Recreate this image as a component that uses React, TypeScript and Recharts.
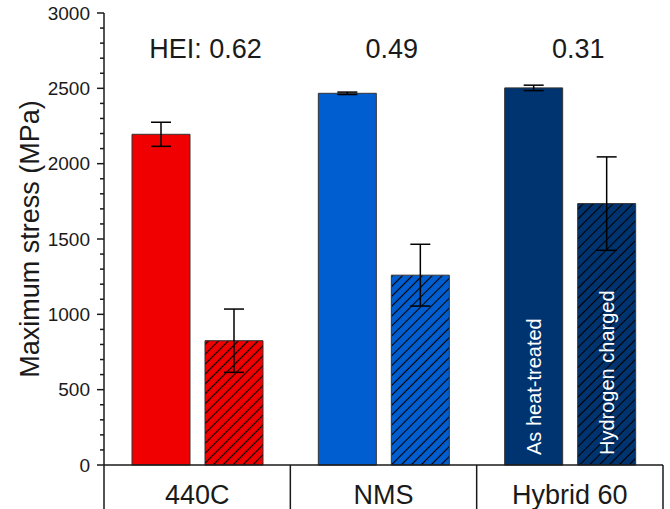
import React from "react";
import { BarChart, Bar, XAxis, YAxis, ErrorBar, Cell, LabelList, Label } from "recharts";

const categories = ["440C", "NMS", "Hybrid 60"];
const asHeatTreated = [2195, 2467, 2503];
const asHeatTreatedErr = [80, 8, 18];
const hydrogenCharged = [825, 1260, 1735];
const hydrogenChargedErr = [210, 205, 310];
const heiLabels = ["HEI: 0.62", "0.49", "0.31"];
const majorTicks = [0, 500, 1000, 1500, 2000, 2500, 3000];
const allTicks = [
  0, 100, 200, 300, 400, 500, 600, 700, 800, 900, 1000, 1100, 1200, 1300, 1400, 1500,
  1600, 1700, 1800, 1900, 2000, 2100, 2200, 2300, 2400, 2500, 2600, 2700, 2800, 2900, 3000,
];
const HEI_LEVEL = 2700;

const COLORS = ["#f00000", "#005ed0", "#003470"];
const INK = "#1a1a1a";
const FONT = "'Liberation Sans', Arial, Helvetica, sans-serif";

const W = 670;
const H = 509;
const MARGIN = { top: 13, right: 7, bottom: 0, left: 0 };
const Y_AXIS_W = 104;
const X_AXIS_H = 44;
const BAR_GAP = 15;
const PLOT_W = W - MARGIN.right - Y_AXIS_W;
const BAND = PLOT_W / categories.length;
const HATCH = 7;

const data = categories.map((name, i) => ({
  name,
  heat: asHeatTreated[i],
  heatErr: asHeatTreatedErr[i],
  h2: hydrogenCharged[i],
  h2Err: hydrogenChargedErr[i],
  hei: heiLabels[i],
}));

const LeftTick = (props: any) => {
  const { x, y, payload } = props;
  const major = majorTicks.includes(payload.value);
  return (
    <g>
      <line x1={x - (major ? 7 : 4)} x2={x} y1={y} y2={y} stroke={INK} strokeWidth={1.5} />
      {major && (
        <text x={x - 14} y={y} dy="0.35em" textAnchor="end" fontSize={19} fill={INK} fontFamily={FONT}>
          {payload.value}
        </text>
      )}
    </g>
  );
};

const RightTick = (props: any) => {
  const { x, y, payload } = props;
  const major = majorTicks.includes(payload.value);
  return <line x1={x - (major ? 7 : 4)} x2={x} y1={y} y2={y} stroke={INK} strokeWidth={1.5} />;
};

const XTick = (props: any) => {
  const { x, y, payload } = props;
  const half = BAND / 2;
  const first = payload.value === categories[0];
  return (
    <g>
      {first && <line x1={x - half} x2={x - half} y1={y} y2={y + X_AXIS_H} stroke={INK} strokeWidth={1.5} />}
      <line x1={x + half} x2={x + half} y1={y} y2={y + X_AXIS_H} stroke={INK} strokeWidth={1.5} />
      <text x={x} y={y + 39} textAnchor="middle" fontSize={27} fill={INK} fontFamily={FONT}>
        {payload.value}
      </text>
    </g>
  );
};

const HeiLabel = (props: any) => {
  const vb = props.viewBox ?? props;
  const { x, y, width, height } = vb;
  const idx = props.index;
  const base = y + height;
  const perUnit = height / asHeatTreated[idx];
  const ty = base - HEI_LEVEL * perUnit;
  const cx = x + width + BAR_GAP / 2 + 8;
  return (
    <text x={cx} y={ty} textAnchor="middle" fontSize={27} fill={INK} fontFamily={FONT}>
      {heiLabels[idx]}
    </text>
  );
};

const makeInsideLabel = (text: string) => (props: any) => {
  if (props.index !== 2) return null;
  const vb = props.viewBox ?? props;
  const cx = vb.x + vb.width / 2;
  const by = vb.y + vb.height - 10;
  return (
    <text
      x={cx}
      y={by}
      transform={`rotate(-90 ${cx} ${by})`}
      textAnchor="start"
      dominantBaseline="central"
      fontSize={20}
      fill="#ffffff"
      fontFamily={FONT}
    >
      {text}
    </text>
  );
};

export default function App() {
  return (
    <div style={{ position: "absolute", left: 0, top: 0, width: W, height: H, background: "#fff" }}>
      <BarChart
        width={W}
        height={H}
        data={data}
        margin={MARGIN}
        barCategoryGap={28}
        barGap={BAR_GAP}
      >
        <defs>
          {COLORS.map((c, i) => (
            <pattern
              key={i}
              id={`hatch-${i}`}
              patternUnits="userSpaceOnUse"
              width={HATCH}
              height={HATCH}
              patternTransform="rotate(45)"
            >
              <rect width={HATCH} height={HATCH} fill={c} />
              <line x1={HATCH / 2} y1={0} x2={HATCH / 2} y2={HATCH} stroke="#000" strokeWidth={1.1} />
            </pattern>
          ))}
        </defs>
        <XAxis
          dataKey="name"
          height={X_AXIS_H}
          interval={0}
          tickLine={false}
          tickSize={0}
          tickMargin={0}
          axisLine={{ stroke: INK, strokeWidth: 1.5 }}
          tick={<XTick />}
        />
        <XAxis
          xAxisId="top"
          dataKey="name"
          orientation="top"
          height={0}
          tick={false}
          tickLine={false}
          axisLine={{ stroke: INK, strokeWidth: 1.5 }}
        />
        <YAxis
          yAxisId="left"
          width={Y_AXIS_W}
          domain={[0, 3000]}
          ticks={allTicks}
          interval={0}
          tickLine={false}
          tickSize={0}
          tickMargin={0}
          axisLine={{ stroke: INK, strokeWidth: 1.5 }}
          tick={<LeftTick />}
        >
          <Label
            value="Maximum stress (MPa)"
            angle={-90}
            position="center"
            dx={-23}
            style={{ fontSize: 27, fill: INK, fontFamily: FONT, textAnchor: "middle" }}
          />
        </YAxis>
        <YAxis
          yAxisId="right"
          orientation="right"
          width={0}
          domain={[0, 3000]}
          ticks={allTicks}
          interval={0}
          tickLine={false}
          tickSize={0}
          tickMargin={0}
          axisLine={{ stroke: INK, strokeWidth: 1.5 }}
          tick={<RightTick />}
        />
        <Bar dataKey="heat" yAxisId="left" stroke="#333" strokeWidth={1} isAnimationActive={false}>
          {data.map((d, i) => (
            <Cell key={d.name} fill={COLORS[i]} />
          ))}
          <ErrorBar dataKey="heatErr" width={10} stroke="#000" strokeWidth={1.5} />
          <LabelList dataKey="hei" content={HeiLabel} />
          <LabelList dataKey="heat" content={makeInsideLabel("As heat-treated")} />
        </Bar>
        <Bar dataKey="h2" yAxisId="left" stroke="#333" strokeWidth={1} isAnimationActive={false}>
          {data.map((d, i) => (
            <Cell key={d.name} fill={`url(#hatch-${i})`} />
          ))}
          <ErrorBar dataKey="h2Err" width={10} stroke="#000" strokeWidth={1.5} />
          <LabelList dataKey="h2" content={makeInsideLabel("Hydrogen charged")} />
        </Bar>
      </BarChart>
    </div>
  );
}
